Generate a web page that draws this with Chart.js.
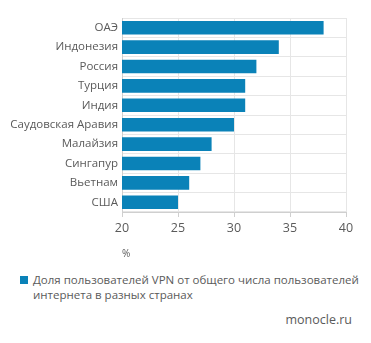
<!DOCTYPE html>
<html>
<head>
<meta charset="utf-8">
<script src="https://cdn.jsdelivr.net/npm/chart.js@4.4.1/dist/chart.umd.min.js"></script>
<style>
    body { margin: 0; background: #fff; font-family: 'Open Sans', sans-serif; }
    #wrap { position: relative; width: 371px; height: 343px; }
    #vpnChart { position: absolute; left: 0; top: 0; }
    #legend { position: absolute; left: 20px; top: 272px; width: 340px; color: #5a5a5a; font-size: 11.5px; line-height: 15px; }
    #legend .box { position: absolute; left: 0; top: 4px; width: 8px; height: 8px; background: #0a82b8; }
    #legend .txt { margin-left: 13px; }
    #source { position: absolute; right: 19px; top: 311px; color: #5a5a5a; font-size: 12.5px; }
</style>
</head>
<body>
<div id="wrap">
    <canvas id="vpnChart" width="371" height="260"></canvas>
    <div id="legend"><span class="box"></span><div class="txt">Доля пользователей VPN от общего числа пользователей<br>интернета в разных странах</div></div>
    <div id="source">monocle.ru</div>
</div>
<script>
const countries = ['ОАЭ', 'Индонезия', 'Россия', 'Турция', 'Индия', 'Саудовская Аравия', 'Малайзия', 'Сингапур', 'Вьетнам', 'США'];
const vpnShare = [38, 34, 32, 31, 31, 30, 28, 27, 26, 25];
const xTicks = [20, 25, 30, 35, 40];

const ctx = document.getElementById('vpnChart').getContext('2d');

const chartData = {
    labels: countries,
    datasets: [
        {
            label: 'Доля пользователей VPN от общего числа пользователей интернета в разных странах',
            data: vpnShare,
            backgroundColor: '#0a82b8',
            borderWidth: 0,
            barPercentage: 0.7,
            categoryPercentage: 1.0
        }
    ]
};

const chartOptions = {
    indexAxis: 'y',
    responsive: false,
    animation: false,
    layout: {
        padding: { top: 18, right: 25, left: 0, bottom: 0 }
    },
    plugins: {
        legend: { display: false },
        tooltip: { enabled: false }
    },
    scales: {
        x: {
            min: xTicks[0],
            max: xTicks[xTicks.length - 1],
            afterBuildTicks: function(scale) {
                scale.ticks = xTicks.map(v => ({ value: v }));
            },
            grid: {
                color: '#e6e6e6',
                tickColor: '#cfcfcf',
                tickLength: 5
            },
            border: { color: '#cfcfcf' },
            ticks: {
                color: '#5a5a5a',
                padding: 4,
                font: { family: 'Open Sans', size: 12.5 }
            },
            title: {
                display: true,
                text: '%',
                align: 'start',
                color: '#5a5a5a',
                padding: { top: 8, bottom: 0 },
                font: { family: 'Open Sans', size: 10 }
            }
        },
        y: {
            afterFit: function(scale) {
                scale.width = 122;
            },
            grid: {
                color: '#e6e6e6',
                drawTicks: false
            },
            border: { color: '#cfcfcf' },
            ticks: {
                color: '#5a5a5a',
                padding: 4,
                font: { family: 'Open Sans', size: 11.5 }
            }
        }
    }
};

new Chart(ctx, {
    type: 'bar',
    data: chartData,
    options: chartOptions
});
</script>
</body>
</html>
